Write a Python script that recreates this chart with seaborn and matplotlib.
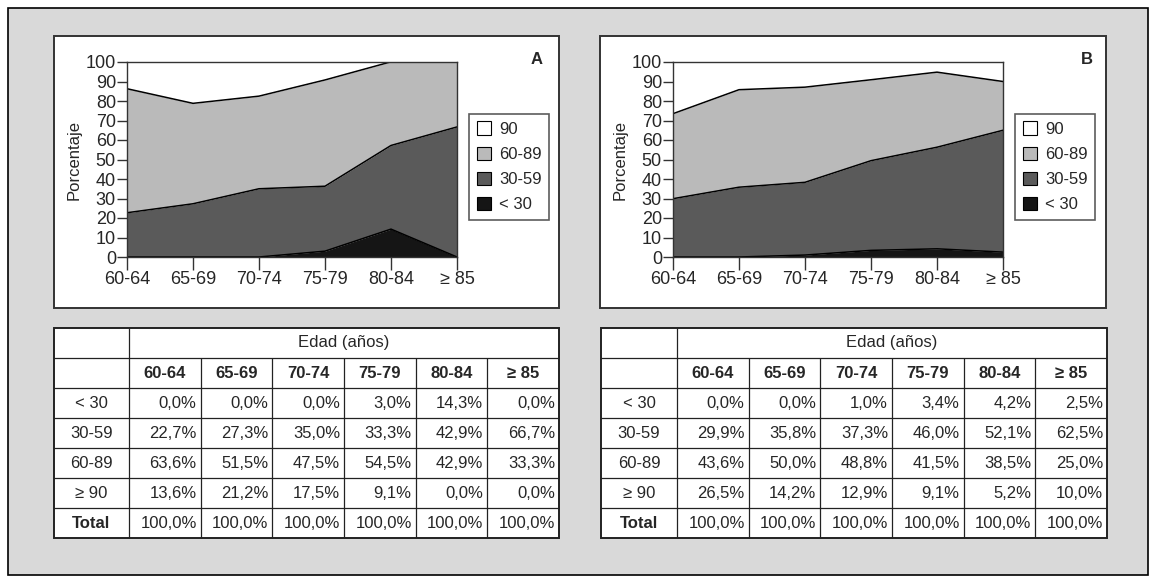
import numpy as np
import pandas as pd
import seaborn as sns
from matplotlib import pyplot as plt
from matplotlib.patches import Rectangle, Patch

# datos
edades = ["60-64", "65-69", "70-74", "75-79", "80-84", "≥ 85"]
grupos = ["< 30", "30-59", "60-89", "≥ 90"]
leyenda = ["90", "60-89", "30-59", "< 30"]

a_lt30 = [0.0, 0.0, 0.0, 3.0, 14.3, 0.0]
a_30_59 = [22.7, 27.3, 35.0, 33.3, 42.9, 66.7]
a_60_89 = [63.6, 51.5, 47.5, 54.5, 42.9, 33.3]
a_ge90 = [13.6, 21.2, 17.5, 9.1, 0.0, 0.0]

b_lt30 = [0.0, 0.0, 1.0, 3.4, 4.2, 2.5]
b_30_59 = [29.9, 35.8, 37.3, 46.0, 52.1, 62.5]
b_60_89 = [43.6, 50.0, 48.8, 41.5, 38.5, 25.0]
b_ge90 = [26.5, 14.2, 12.9, 9.1, 5.2, 10.0]

totales = [100.0, 100.0, 100.0, 100.0, 100.0, 100.0]

colores = ["#151515", "#5a5a5a", "#bababa", "#ffffff"]

sns.set_style("ticks")
plt.rcParams["font.family"] = ["Liberation Sans", "DejaVu Sans"]

W, H = 1155, 581
fig = plt.figure(figsize=(W / 100, H / 100), dpi=100)


def px_rect(x0, y0, x1, y1):
    return [x0 / W, 1 - y1 / H, (x1 - x0) / W, (y1 - y0) / H]


def fig_box(x0, y0, x1, y1, fc, ec, lw, z):
    r = Rectangle((x0 / W, 1 - y1 / H), (x1 - x0) / W, (y1 - y0) / H,
                  transform=fig.transFigure, facecolor=fc, edgecolor=ec,
                  lw=lw, zorder=z)
    fig.add_artist(r)


fig_box(8, 8, 1148, 575, "#d9d9d9", "black", 1.2, -3)
fig_box(54, 36, 559, 308, "white", "#333333", 1.4, -2)
fig_box(600, 36, 1106, 308, "white", "#333333", 1.4, -2)


def area_chart(rect, series, letra, leg_xy, letra_xy):
    ax = fig.add_axes(px_rect(*rect))
    x = np.arange(len(edades))
    ax.stackplot(x, *series, colors=colores, linewidth=0)
    df = pd.DataFrame(np.cumsum(series, axis=0).T, columns=grupos)
    df["x"] = x
    for g in grupos[:-1]:
        sns.lineplot(data=df, x="x", y=g, ax=ax, color="black", lw=1.1)
    ax.set_xlim(0, len(edades) - 1)
    ax.set_ylim(0, 100)
    ax.set_yticks(range(0, 101, 10))
    ax.set_xticks(x)
    ax.set_xticklabels(edades)
    ax.set_xlabel("")
    ax.set_ylabel("Porcentaje", fontsize=12, labelpad=3)
    ax.tick_params(axis="y", labelsize=13, length=7, width=1, pad=1, color="#333333")
    ax.tick_params(axis="x", labelsize=13, length=9, width=1, pad=1, color="#333333")
    for s in ax.spines.values():
        s.set_visible(True)
        s.set_color("#333333")
        s.set_linewidth(1.0)
    handles = [Patch(facecolor=c, edgecolor="black", lw=0.8)
               for c in colores[::-1]]
    leg = ax.legend(handles, leyenda, loc="upper left",
                    bbox_to_anchor=(leg_xy[0] / W, 1 - leg_xy[1] / H),
                    bbox_transform=fig.transFigure, fontsize=12,
                    frameon=True, fancybox=False, edgecolor="#333333",
                    handlelength=0.85, handleheight=0.85, handletextpad=0.5,
                    labelspacing=0.58, borderpad=0.45, borderaxespad=0)
    leg.get_frame().set_linewidth(1.2)
    fig.text(letra_xy[0] / W, 1 - letra_xy[1] / H, letra, fontsize=12,
             fontweight="bold", ha="center", va="center")
    return ax


def fmt(v):
    return f"{v:.1f}".replace(".", ",") + "%"


def tabla(rect, filas, c0):
    x0, y0, x1, y1 = rect
    ax = fig.add_axes(px_rect(*rect))
    w, h = x1 - x0, y1 - y0
    ax.set_xlim(0, w)
    ax.set_ylim(h, 0)
    ax.axis("off")
    cw = (w - c0) / len(edades)
    xs = [0, c0] + [c0 + cw * (i + 1) for i in range(len(edades))]
    rh = h / 7
    ax.add_patch(Rectangle((0, 0), w, h, facecolor="white", edgecolor="#222222",
                           lw=1.4, clip_on=False, zorder=1))
    ax.hlines([rh * i for i in range(1, 7)], 0, w, color="#222222", lw=0.9, zorder=2)
    ax.vlines(c0, 0, h, color="#222222", lw=0.9, zorder=2)
    ax.vlines(xs[2:-1], rh, h, color="#222222", lw=0.9, zorder=2)
    ax.text((c0 + w) / 2, rh * 0.5, "Edad (años)", ha="center", va="center",
            fontsize=12, zorder=3)
    for j, e in enumerate(edades):
        ax.text((xs[j + 1] + xs[j + 2]) / 2, rh * 1.5, e, ha="center",
                va="center", fontsize=12, fontweight="bold", zorder=3)
    etiquetas = grupos + ["Total"]
    for i, (g, fila) in enumerate(zip(etiquetas, filas)):
        yc = rh * (i + 2.5)
        ax.text(c0 / 2, yc, g, ha="center", va="center", fontsize=12,
                fontweight="bold" if g == "Total" else "normal", zorder=3)
        for j, v in enumerate(fila):
            ax.text(xs[j + 2] - 4, yc, fmt(v), ha="right", va="center",
                    fontsize=12, zorder=3)


area_chart((127, 62, 457, 257), [a_lt30, a_30_59, a_60_89, a_ge90], "A",
           (469, 114), (537, 60))
area_chart((673, 62, 1003, 257), [b_lt30, b_30_59, b_60_89, b_ge90], "B",
           (1015, 114), (1087, 60))

tabla((54, 328, 559, 538), [a_lt30, a_30_59, a_60_89, a_ge90, totales], 75)
tabla((601, 328, 1107, 538), [b_lt30, b_30_59, b_60_89, b_ge90, totales], 76)

fig.savefig("out.png", dpi=100)
